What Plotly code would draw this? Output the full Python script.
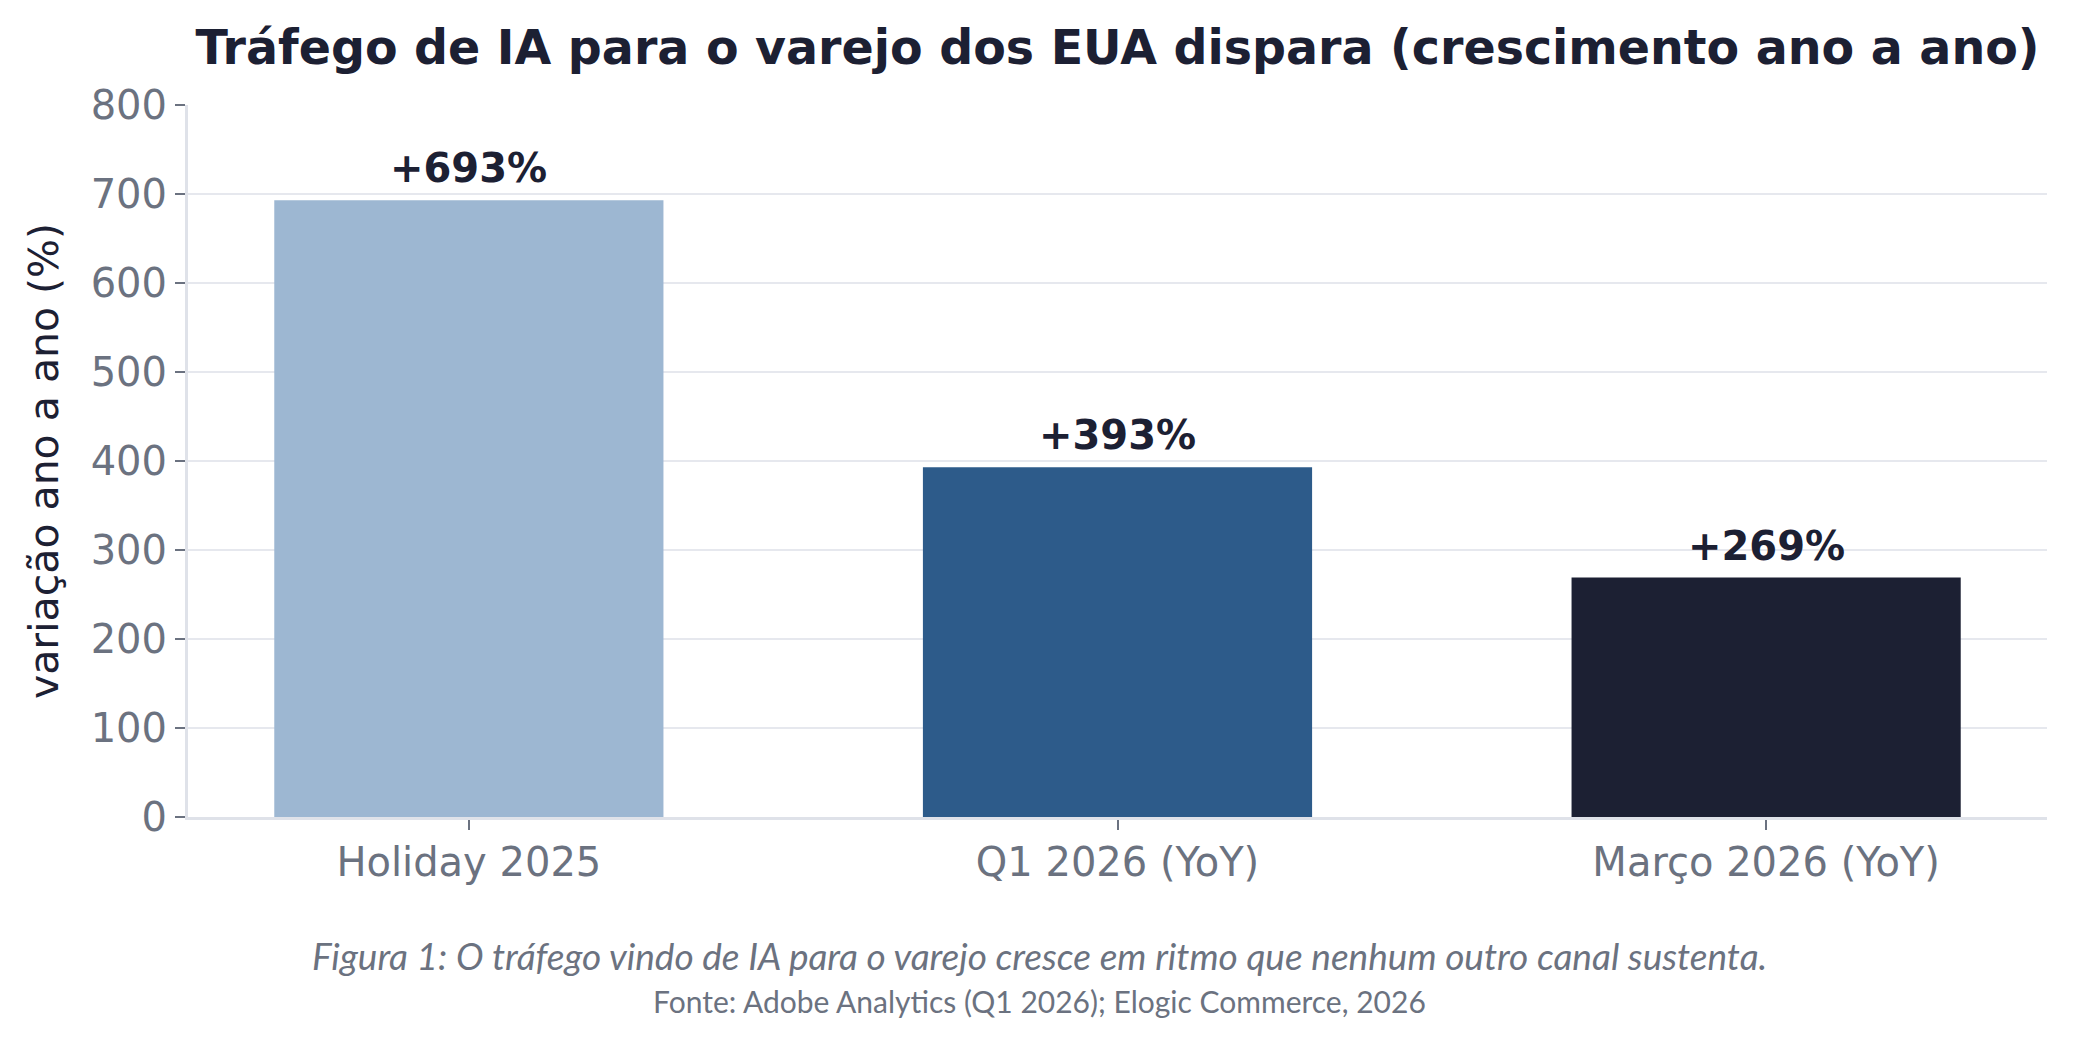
import plotly.graph_objects as go

categories = ["Holiday 2025", "Q1 2026 (YoY)", "Março 2026 (YoY)"]
values = [693, 393, 269]
bar_colors = ["#9db7d2", "#2d5b8a", "#1c2033"]
y_ticks = [0, 100, 200, 300, 400, 500, 600, 700, 800]

title_text = "Tráfego de IA para o varejo dos EUA dispara (crescimento ano a ano)"
y_title = "variação ano a ano (%)"
caption = "Figura 1: O tráfego vindo de IA para o varejo cresce em ritmo que nenhum outro canal sustenta."
source = "Fonte: Adobe Analytics (Q1 2026); Elogic Commerce, 2026"

W, H = 2092, 1037
L, R, T, B = 188, 45, 105, 220
CAP_X = 1039

fig = go.Figure()
fig.add_trace(go.Bar(
    x=list(range(len(categories))), y=values,
    marker=dict(color=bar_colors, line=dict(width=0)),
    width=0.6, hoverinfo="skip",
))

for i, v in enumerate(values):
    fig.add_annotation(
        x=i, y=v, xref="x", yref="y", text=f"<b>+{v}%</b>",
        showarrow=False, yanchor="bottom", yshift=7,
        font=dict(family="DejaVu Sans", size=40, color="#1c2033"),
    )

fig.update_layout(
    width=W, height=H,
    margin=dict(l=L, r=R, t=T, b=B, autoexpand=False),
    paper_bgcolor="white", plot_bgcolor="white",
    showlegend=False,
    title=dict(
        text=f"<b>{title_text}</b>",
        x=0.5, xref="paper", y=1 - 47 / H, yref="container",
        xanchor="center", yanchor="middle",
        font=dict(family="DejaVu Sans", size=47.5, color="#1c2033"),
    ),
    xaxis=dict(
        tickmode="array", tickvals=list(range(len(categories))), ticktext=categories,
        range=[-0.433, 2.433], showgrid=False, zeroline=False,
        showline=True, linecolor="#dfe2e9", linewidth=3,
        ticks="outside", ticklen=10, tickwidth=2, tickcolor="#6b7280",
        tickfont=dict(family="DejaVu Sans", size=40, color="#6b7280"),
        ticklabelstandoff=-2,
        fixedrange=True,
    ),
    yaxis=dict(
        range=[0, 800], tickmode="array", tickvals=y_ticks,
        showgrid=True, gridcolor="#e6e8ee", gridwidth=2, zeroline=False,
        showline=True, linecolor="#dfe2e9", linewidth=3,
        ticks="outside", ticklen=10, tickwidth=2, tickcolor="#6b7280",
        tickfont=dict(family="DejaVu Sans", size=40, color="#6b7280"),
        title=dict(text=y_title, standoff=20,
                   font=dict(family="DejaVu Sans", size=41, color="#1c2033")),
        fixedrange=True,
    ),
)

fig.add_annotation(
    x=(CAP_X - L) / (W - L - R), y=(817 - 955) / (817 - 105),
    xref="paper", yref="paper", showarrow=False,
    xanchor="center", yanchor="middle",
    text=f"<i>{caption}</i>",
    font=dict(family="Lato", size=37, color="#6b7280"),
)
fig.add_annotation(
    x=(CAP_X - L) / (W - L - R), y=(817 - 1001) / (817 - 105),
    xref="paper", yref="paper", showarrow=False,
    xanchor="center", yanchor="middle",
    text=source,
    font=dict(family="Lato", size=30, color="#6b7280"),
)

fig.write_html("out.html", config={"displayModeBar": False})
